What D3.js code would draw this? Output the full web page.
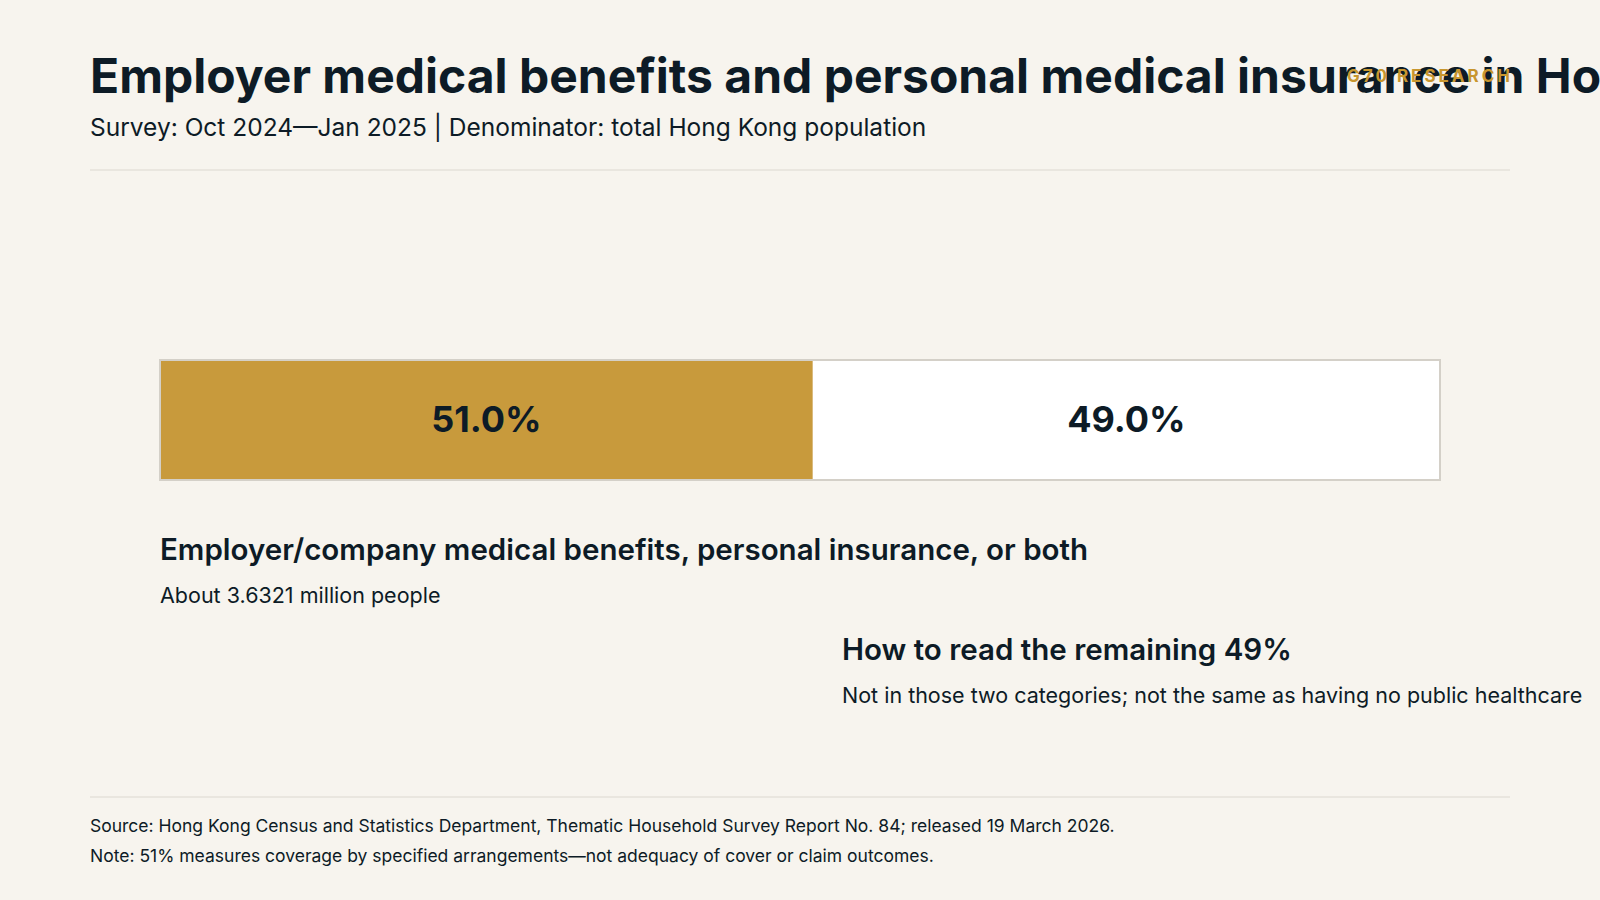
<!DOCTYPE html>
<html><head><meta charset="utf-8">
<script src="https://cdn.jsdelivr.net/npm/d3@7"></script>
<style>body{margin:0;background:#f7f4ee;overflow:hidden}</style>
</head><body>
<script>
var categories = ['Covered', 'Remaining'];
var shares = [51.0, 49.0];
var fills = ['#c89a3c', '#ffffff'];

var W = 1600, H = 900, font = 'Inter, "Noto Sans", sans-serif', ink = '#0d1b26';

var svg = d3.select('body').append('svg')
    .attr('width', W).attr('height', H);

svg.append('rect').attr('width', W).attr('height', H).attr('fill', '#f7f4ee');

svg.append('text')
    .attr('x', 90).attr('y', 93)
    .attr('font-family', font).attr('font-size', 48).attr('font-weight', 700)
    .attr('fill', ink)
    .text('Employer medical benefits and personal medical insurance in Hong Kong');

svg.append('text')
    .attr('x', 1513).attr('y', 82)
    .attr('text-anchor', 'end')
    .attr('font-family', font).attr('font-size', 17).attr('font-weight', 700)
    .attr('letter-spacing', 3)
    .attr('fill', '#c8962e')
    .text('G70 RESEARCH');

svg.append('text')
    .attr('x', 90).attr('y', 136)
    .attr('font-family', font).attr('font-size', 24.5)
    .attr('fill', ink)
    .text('Survey: Oct 2024\u2014Jan 2025 | Denominator: total Hong Kong population');

[170, 797].forEach(function(y) {
    svg.append('line').attr('x1', 90).attr('x2', 1510).attr('y1', y).attr('y2', y)
        .attr('stroke', '#dcd8d0').attr('stroke-width', 1);
});

var x = d3.scaleLinear().domain([0, 100]).range([160, 1440]);
var offsets = d3.cumsum([0].concat(shares)).slice(0, shares.length);

var seg = svg.selectAll('g.seg').data(shares).enter().append('g');
seg.append('rect')
    .attr('x', function(d, i) { return x(offsets[i]); })
    .attr('y', 360)
    .attr('width', function(d) { return x(d) - x(0); })
    .attr('height', 120)
    .attr('fill', function(d, i) { return fills[i]; });
seg.append('text')
    .attr('x', function(d, i) { return x(offsets[i] + d / 2); })
    .attr('y', 432)
    .attr('text-anchor', 'middle')
    .attr('font-family', font).attr('font-size', 36).attr('font-weight', 700)
    .attr('fill', ink)
    .text(function(d) { return d.toFixed(1) + '%'; });

svg.append('rect')
    .attr('x', x(0)).attr('y', 360).attr('width', x(100) - x(0)).attr('height', 120)
    .attr('fill', 'none').attr('stroke', '#d4d0c8').attr('stroke-width', 2);

function note(xp, y, head, body) {
    svg.append('text').attr('x', xp).attr('y', y)
        .attr('font-family', font).attr('font-size', 29.5).attr('font-weight', 600)
        .attr('fill', ink).text(head);
    svg.append('text').attr('x', xp).attr('y', y + 43)
        .attr('font-family', font).attr('font-size', 21.5)
        .attr('fill', ink).text(body);
}
note(160, 560, 'Employer/company medical benefits, personal insurance, or both', 'About 3.6321 million people');
note(842, 660, 'How to read the remaining 49%', 'Not in those two categories; not the same as having no public healthcare');

svg.append('text').attr('x', 90).attr('y', 832)
    .attr('font-family', font).attr('font-size', 17.5).attr('fill', ink)
    .text('Source: Hong Kong Census and Statistics Department, Thematic Household Survey Report No. 84; released 19 March 2026.');
svg.append('text').attr('x', 90).attr('y', 862)
    .attr('font-family', font).attr('font-size', 17.5).attr('fill', ink)
    .text('Note: 51% measures coverage by specified arrangements\u2014not adequacy of cover or claim outcomes.');
</script>
</body></html>
